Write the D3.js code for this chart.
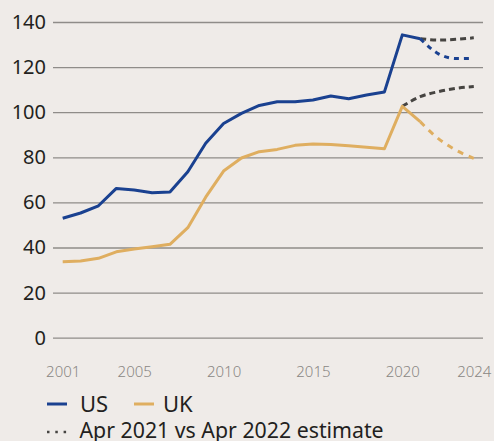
<!DOCTYPE html>
<html lang="en">
<head>
<meta charset="UTF-8">
<title>US vs UK</title>
<style>
  body { margin: 0; background: #efebe8; }
  svg { display: block; font-family: "Noto Sans", sans-serif; }
</style>
</head>
<body>
<script src="https://d3js.org/d3.v7.min.js"></script>
<script>
// values
var years = [2001, 2002, 2003, 2004, 2005, 2006, 2007, 2008, 2009, 2010, 2011,
             2012, 2013, 2014, 2015, 2016, 2017, 2018, 2019, 2020, 2021];
var us = [53, 55.3, 58.5, 66.2, 65.5, 64.3, 64.6, 73.6, 86.2, 95, 99.5,
          103, 104.6, 104.6, 105.4, 107.2, 106, 107.6, 109, 134.3, 132.6];
var uk = [33.7, 34, 35.2, 38.1, 39.3, 40.3, 41.4, 48.8, 62.3, 73.9, 79.7,
          82.5, 83.5, 85.3, 85.9, 85.7, 85.1, 84.5, 83.8, 102.6, 95.8];

var forecastYears = [2021, 2022, 2023, 2024];
var usForecast = [132.6, 126, 123.8, 123.9];
var ukForecast = [95.8, 88.4, 83.2, 79.5];

var usEstimateYears = [2021, 2022, 2023, 2024];
var usEstimate = [132.6, 132, 132.3, 133];
var ukEstimateYears = [2020, 2021, 2022, 2023, 2024];
var ukEstimate = [102.6, 106.9, 109.1, 110.6, 111.4];

var yTicks = [0, 20, 40, 60, 80, 100, 120, 140];
var xTicks = [2001, 2005, 2010, 2015, 2020, 2024];

var width = 494, height = 441;
var gridLeft = 53, gridRight = 483;

var blue = '#1a4190', gold = '#dfae60', grey = '#464441';

var x = d3.scaleLinear().domain([2001, 2024]).range([62.7, 473.8]);
var y = d3.scaleLinear().domain([0, 140]).range([337.7, 22]);

var svg = d3.select('body').append('svg')
    .attr('width', width)
    .attr('height', height);

// grid + y labels
var yAxis = svg.append('g')
    .attr('transform', `translate(${gridLeft},0)`)
    .call(d3.axisLeft(y).tickValues(yTicks).tickSize(-(gridRight - gridLeft)).tickPadding(7));
yAxis.select('.domain').remove();
yAxis.selectAll('line').attr('stroke', '#8f8c89').attr('stroke-width', 1.3);
yAxis.selectAll('text')
    .attr('fill', '#231f20')
    .style('font-size', '20px')
    .style('font-family', '"Noto Sans", sans-serif');

// x labels
var xAxis = svg.append('g')
    .attr('transform', `translate(0,338)`)
    .call(d3.axisBottom(x).tickValues(xTicks).tickFormat(d3.format('d')).tickSize(0).tickPadding(28.4));
xAxis.select('.domain').remove();
xAxis.selectAll('text')
    .attr('fill', '#8a8784')
    .style('font-size', '15px')
    .style('font-weight', '300')
    .style('font-family', '"Noto Sans", sans-serif');

function pairs(xs, ys) {
    return xs.map((d, i) => [d, ys[i]]);
}

var solid = d3.line().x(d => x(d[0])).y(d => y(d[1]));
var smooth = d3.line().x(d => x(d[0])).y(d => y(d[1])).curve(d3.curveMonotoneX);

// estimates (grey dashed)
svg.append('path')
    .datum(pairs(usEstimateYears, usEstimate))
    .attr('d', smooth)
    .attr('fill', 'none').attr('stroke', grey).attr('stroke-width', 3)
    .attr('stroke-dasharray', '6,4');
svg.append('path')
    .datum(pairs(ukEstimateYears, ukEstimate))
    .attr('d', smooth)
    .attr('fill', 'none').attr('stroke', grey).attr('stroke-width', 3)
    .attr('stroke-dasharray', '6,4');

// forecasts (coloured dashed)
svg.append('path')
    .datum(pairs(forecastYears, usForecast))
    .attr('d', smooth)
    .attr('fill', 'none').attr('stroke', blue).attr('stroke-width', 3)
    .attr('stroke-dasharray', '5,5');
svg.append('path')
    .datum(pairs(forecastYears, ukForecast))
    .attr('d', smooth)
    .attr('fill', 'none').attr('stroke', gold).attr('stroke-width', 3)
    .attr('stroke-dasharray', '6,6');

// actuals
svg.append('path')
    .datum(pairs(years, uk))
    .attr('d', solid)
    .attr('fill', 'none').attr('stroke', gold).attr('stroke-width', 3)
    .attr('stroke-linejoin', 'round');
svg.append('path')
    .datum(pairs(years, us))
    .attr('d', solid)
    .attr('fill', 'none').attr('stroke', blue).attr('stroke-width', 3)
    .attr('stroke-linejoin', 'round');

// legend
var legend = svg.append('g').style('font-size', '22px').attr('fill', '#231f20');
legend.append('line').attr('x1', 47).attr('x2', 67).attr('y1', 404).attr('y2', 404)
    .attr('stroke', blue).attr('stroke-width', 3);
legend.append('text').text('US').attr('x', 80).attr('y', 411.7);
legend.append('line').attr('x1', 134).attr('x2', 154).attr('y1', 404).attr('y2', 404)
    .attr('stroke', gold).attr('stroke-width', 3);
legend.append('text').text('UK').attr('x', 163).attr('y', 411.7);
legend.append('line').attr('x1', 47).attr('x2', 68).attr('y1', 432).attr('y2', 432)
    .attr('stroke', grey).attr('stroke-width', 2.5).attr('stroke-dasharray', '2.5,5.8');
legend.append('text').text('Apr 2021 vs Apr 2022 estimate')
    .attr('x', 79.5).attr('y', 437.5)
    .style('font-size', '21.3px');
</script>
</body>
</html>
